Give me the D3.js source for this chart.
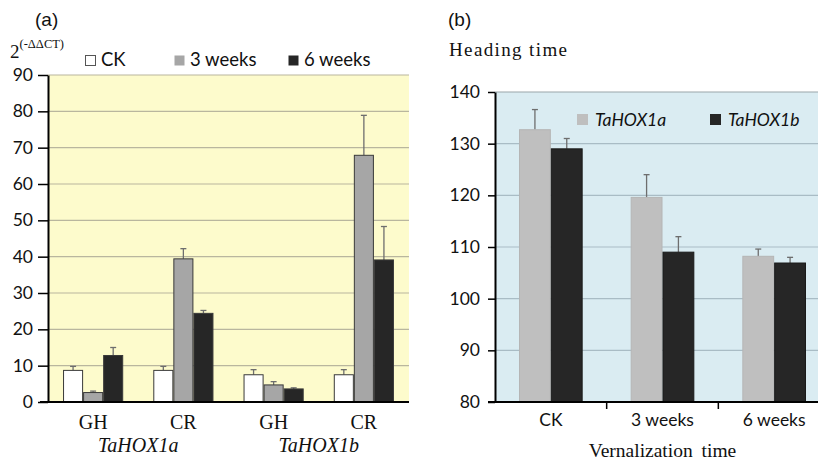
<!DOCTYPE html>
<html>
<head>
<meta charset="utf-8">
<script src="https://cdn.jsdelivr.net/npm/d3@7"></script>
<style>
  body { margin: 0; background: #fff; }
  svg { display: block; }
  .tick text { font-family: Lato, "Open Sans", sans-serif; font-size: 17.5px; fill: #111; }
</style>
</head>
<body>
<svg id="chart" width="818" height="462"></svg>
<script>
// ---- Panel (a): relative expression, 2^(-ΔΔCT)
const genesA = ["TaHOX1a", "TaHOX1b"];
const conditionsA = ["GH", "CR", "GH", "CR"];
const seriesA = ["CK", "3 weeks", "6 weeks"];
const ckA = [8.7, 8.7, 7.5, 7.5];
const ckErrA = [1.1, 1.1, 1.4, 1.4];
const w3A = [2.6, 39.4, 4.7, 67.9];
const w3ErrA = [0.4, 2.8, 0.9, 11.0];
const w6A = [12.8, 24.4, 3.6, 39.1];
const w6ErrA = [2.2, 0.8, 0.3, 9.2];
const ticksA = [0, 10, 20, 30, 40, 50, 60, 70, 80, 90];

// ---- Panel (b): heading time
const categoriesB = ["CK", "3 weeks", "6 weeks"];
const seriesB = ["TaHOX1a", "TaHOX1b"];
const hox1aB = [132.7, 119.6, 108.2];
const hox1aErrB = [3.9, 4.4, 1.4];
const hox1bB = [129.0, 109.0, 106.9];
const hox1bErrB = [2.0, 3.0, 1.1];
const ticksB = [80, 90, 100, 110, 120, 130, 140];

const svg = d3.select("#chart");
const serif = "'Liberation Serif', 'Times New Roman', serif";
const sans = "Lato, 'Open Sans', sans-serif";

// ================= Panel (a) =================
const colorA = d3.scaleOrdinal().domain(seriesA).range(["#ffffff", "#a6a6a6", "#262626"]);
const valuesA = [ckA, w3A, w6A];
const errsA = [ckErrA, w3ErrA, w6ErrA];
const rowsA = conditionsA.map((c, i) => ({
  idx: i,
  bars: seriesA.map((s, j) => ({ series: s, value: valuesA[j][i], err: errsA[j][i] }))
}));

const plotA = { left: 48, right: 409, top: 75, bottom: 402 };
const x0A = d3.scaleBand().domain(d3.range(conditionsA.length))
  .range([plotA.left, plotA.right]).paddingInner(1 / 3).paddingOuter(1 / 6);
const x1A = d3.scaleBand().domain(seriesA).range([0, x0A.bandwidth()]);
const yA = d3.scaleLinear().domain([0, 90]).range([plotA.bottom, plotA.top]);

const gA = svg.append("g");
gA.append("rect")
  .attr("x", plotA.left).attr("y", plotA.top)
  .attr("width", plotA.right - plotA.left).attr("height", plotA.bottom - plotA.top)
  .attr("fill", "#fdfbcc");

// gridlines
gA.append("g").selectAll("line")
  .data(ticksA.slice(1))
  .join("line")
  .attr("x1", plotA.left).attr("x2", plotA.right)
  .attr("y1", d => yA(d)).attr("y2", d => yA(d))
  .attr("stroke", "#b9b69e").attr("stroke-width", 1.2);

// bars
const groupA = gA.append("g").selectAll("g")
  .data(rowsA)
  .join("g")
  .attr("transform", d => `translate(${x0A(d.idx)},0)`);

groupA.selectAll("line.err")
  .data(d => d.bars)
  .join("line")
  .attr("class", "err")
  .attr("x1", d => x1A(d.series) + x1A.bandwidth() / 2)
  .attr("x2", d => x1A(d.series) + x1A.bandwidth() / 2)
  .attr("y1", d => yA(d.value)).attr("y2", d => yA(d.value + d.err))
  .attr("stroke", "#6e6e6e").attr("stroke-width", 1.3);
groupA.selectAll("line.cap")
  .data(d => d.bars)
  .join("line")
  .attr("class", "cap")
  .attr("x1", d => x1A(d.series) + x1A.bandwidth() / 2 - 3)
  .attr("x2", d => x1A(d.series) + x1A.bandwidth() / 2 + 3)
  .attr("y1", d => yA(d.value + d.err)).attr("y2", d => yA(d.value + d.err))
  .attr("stroke", "#6e6e6e").attr("stroke-width", 1.3);

groupA.selectAll("rect")
  .data(d => d.bars)
  .join("rect")
  .attr("x", d => x1A(d.series) + 0.5)
  .attr("y", d => yA(d.value))
  .attr("width", x1A.bandwidth() - 1)
  .attr("height", d => yA(0) - yA(d.value))
  .attr("fill", d => colorA(d.series))
  .attr("stroke", "#3a3a3a").attr("stroke-width", 1);

// y axis
const yAxisA = gA.append("g")
  .attr("transform", `translate(${plotA.left},0)`)
  .call(d3.axisLeft(yA).tickValues(ticksA).tickSize(10).tickPadding(5).tickSizeOuter(0));
yAxisA.select(".domain").attr("stroke", "#000").attr("stroke-width", 2);
yAxisA.selectAll(".tick line").attr("stroke", "#000").attr("stroke-width", 1.5);

// x axis
const xAxisA = gA.append("g")
  .attr("transform", `translate(0,${plotA.bottom})`)
  .call(d3.axisBottom(x0A).tickSize(0).tickPadding(13).tickSizeOuter(0)
    .tickFormat(i => conditionsA[i]));
xAxisA.select(".domain").attr("stroke", "#000").attr("stroke-width", 2)
  .attr("d", `M${plotA.left - 8},0H${plotA.right}`);
xAxisA.selectAll(".tick text")
  .style("font-family", serif).style("font-size", "20px").attr("fill", "#111");

// gene labels under pairs of groups
gA.append("g").selectAll("text")
  .data(genesA)
  .join("text")
  .attr("x", (d, i) => (x0A(2 * i) + x0A(2 * i + 1) + x0A.bandwidth()) / 2)
  .attr("y", 452)
  .attr("text-anchor", "middle")
  .style("font-family", serif).style("font-size", "20px").style("font-style", "italic")
  .attr("fill", "#111")
  .text(d => d);

// y label 2^(-ΔΔCT)
const yLabA = gA.append("text").attr("x", 10).attr("y", 58)
  .style("font-family", serif).attr("fill", "#111");
yLabA.append("tspan").style("font-size", "19px").text("2");
yLabA.append("tspan").attr("dy", -10).style("font-size", "12.5px").text("(-ΔΔCT)");

// panel tag
gA.append("text").attr("x", 35).attr("y", 26)
  .style("font-family", "'Liberation Sans', Arial, sans-serif").style("font-size", "19px")
  .attr("fill", "#111").text("(a)");

// legend (a)
const legendXA = [85, 174, 288];
const legA = gA.append("g").selectAll("g")
  .data(seriesA)
  .join("g")
  .attr("transform", (d, i) => `translate(${legendXA[i]},55)`);
legA.append("rect")
  .attr("x", 0.5).attr("y", 0.5).attr("width", 10).attr("height", 10)
  .attr("fill", d => colorA(d))
  .attr("stroke", d => d === "CK" ? "#555" : "none");
legA.append("text")
  .attr("x", 16).attr("y", 11)
  .style("font-family", sans).style("font-size", "18.5px").attr("fill", "#111")
  .text(d => d);

// ================= Panel (b) =================
const colorB = d3.scaleOrdinal().domain(seriesB).range(["#bfbfbf", "#262626"]);
const valuesB = [hox1aB, hox1bB];
const errsB = [hox1aErrB, hox1bErrB];
const rowsB = categoriesB.map((c, i) => ({
  cat: c,
  bars: seriesB.map((s, j) => ({ series: s, value: valuesB[j][i], err: errsB[j][i] }))
}));

const plotB = { left: 495, right: 830, top: 92, bottom: 402 };
const xB = d3.scaleBand().domain(categoriesB)
  .range([plotB.left, plotB.right]).paddingInner(0.43).paddingOuter(0.215);
const x1B = d3.scaleBand().domain(seriesB).range([0, xB.bandwidth()]);
const yB = d3.scaleLinear().domain([80, 140]).range([plotB.bottom, plotB.top]);

const gB = svg.append("g");
gB.append("rect")
  .attr("x", plotB.left).attr("y", plotB.top)
  .attr("width", plotB.right - plotB.left).attr("height", plotB.bottom - plotB.top)
  .attr("fill", "#daecf2");

gB.append("g").selectAll("line")
  .data(ticksB.slice(1))
  .join("line")
  .attr("x1", plotB.left).attr("x2", plotB.right)
  .attr("y1", d => yB(d)).attr("y2", d => yB(d))
  .attr("stroke", d => d === 140 ? "#9aa5aa" : "#a9bcc5").attr("stroke-width", 1.2);

const groupB = gB.append("g").selectAll("g")
  .data(rowsB)
  .join("g")
  .attr("transform", d => `translate(${xB(d.cat)},0)`);

groupB.selectAll("line.err")
  .data(d => d.bars)
  .join("line")
  .attr("class", "err")
  .attr("x1", d => x1B(d.series) + x1B.bandwidth() / 2)
  .attr("x2", d => x1B(d.series) + x1B.bandwidth() / 2)
  .attr("y1", d => yB(d.value)).attr("y2", d => yB(d.value + d.err))
  .attr("stroke", "#6e6e6e").attr("stroke-width", 1.3);
groupB.selectAll("line.cap")
  .data(d => d.bars)
  .join("line")
  .attr("class", "cap")
  .attr("x1", d => x1B(d.series) + x1B.bandwidth() / 2 - 3)
  .attr("x2", d => x1B(d.series) + x1B.bandwidth() / 2 + 3)
  .attr("y1", d => yB(d.value + d.err)).attr("y2", d => yB(d.value + d.err))
  .attr("stroke", "#6e6e6e").attr("stroke-width", 1.3);

groupB.selectAll("rect")
  .data(d => d.bars)
  .join("rect")
  .attr("x", d => x1B(d.series) + 0.5)
  .attr("y", d => yB(d.value))
  .attr("width", x1B.bandwidth() - 1)
  .attr("height", d => yB(80) - yB(d.value))
  .attr("fill", d => colorB(d.series))
  .attr("stroke", d => d.series === "TaHOX1b" ? "#1a1a1a" : "#b5b5b5").attr("stroke-width", 1);

const yAxisB = gB.append("g")
  .attr("transform", `translate(${plotB.left},0)`)
  .call(d3.axisLeft(yB).tickValues(ticksB).tickSize(7).tickPadding(8).tickSizeOuter(0));
yAxisB.select(".domain").attr("stroke", "#000").attr("stroke-width", 2);
yAxisB.selectAll(".tick line").attr("stroke", "#000").attr("stroke-width", 1.5);

const xAxisB = gB.append("g")
  .attr("transform", `translate(0,${plotB.bottom})`)
  .call(d3.axisBottom(xB).tickSize(0).tickPadding(12).tickSizeOuter(0));
xAxisB.select(".domain").attr("stroke", "#000").attr("stroke-width", 2)
  .attr("d", `M${plotB.left - 7},0H${plotB.right}`);

// tick marks between categories
xAxisB.append("g").selectAll("line")
  .data(categoriesB.slice(0, -1))
  .join("line")
  .attr("x1", d => xB(d) + xB.bandwidth() + xB.step() * xB.paddingInner() / 2)
  .attr("x2", d => xB(d) + xB.bandwidth() + xB.step() * xB.paddingInner() / 2)
  .attr("y1", 0).attr("y2", 7)
  .attr("stroke", "#000").attr("stroke-width", 1.5);

gB.append("text")
  .attr("x", (plotB.left + plotB.right) / 2).attr("y", 457)
  .attr("text-anchor", "middle")
  .style("font-family", serif).style("font-size", "19.5px").attr("fill", "#111")
  .style("word-spacing", "4px")
  .text("Vernalization time");

gB.append("text").attr("x", 449).attr("y", 56)
  .style("font-family", serif).style("font-size", "19px").attr("fill", "#111")
  .attr("textLength", 118).attr("lengthAdjust", "spacing")
  .text("Heading time");

gB.append("text").attr("x", 448).attr("y", 26)
  .style("font-family", "'Liberation Sans', Arial, sans-serif").style("font-size", "19px")
  .attr("fill", "#111").text("(b)");

// legend (b)
const legendXB = [577, 710];
const legB = gB.append("g").selectAll("g")
  .data(seriesB)
  .join("g")
  .attr("transform", (d, i) => `translate(${legendXB[i]},114)`);
legB.append("rect")
  .attr("width", 11).attr("height", 11)
  .attr("fill", d => colorB(d));
legB.append("text")
  .attr("x", 18).attr("y", 12)
  .style("font-family", sans).style("font-size", "17.5px").style("font-style", "italic")
  .attr("fill", "#111")
  .text(d => d);
</script>
</body>
</html>
